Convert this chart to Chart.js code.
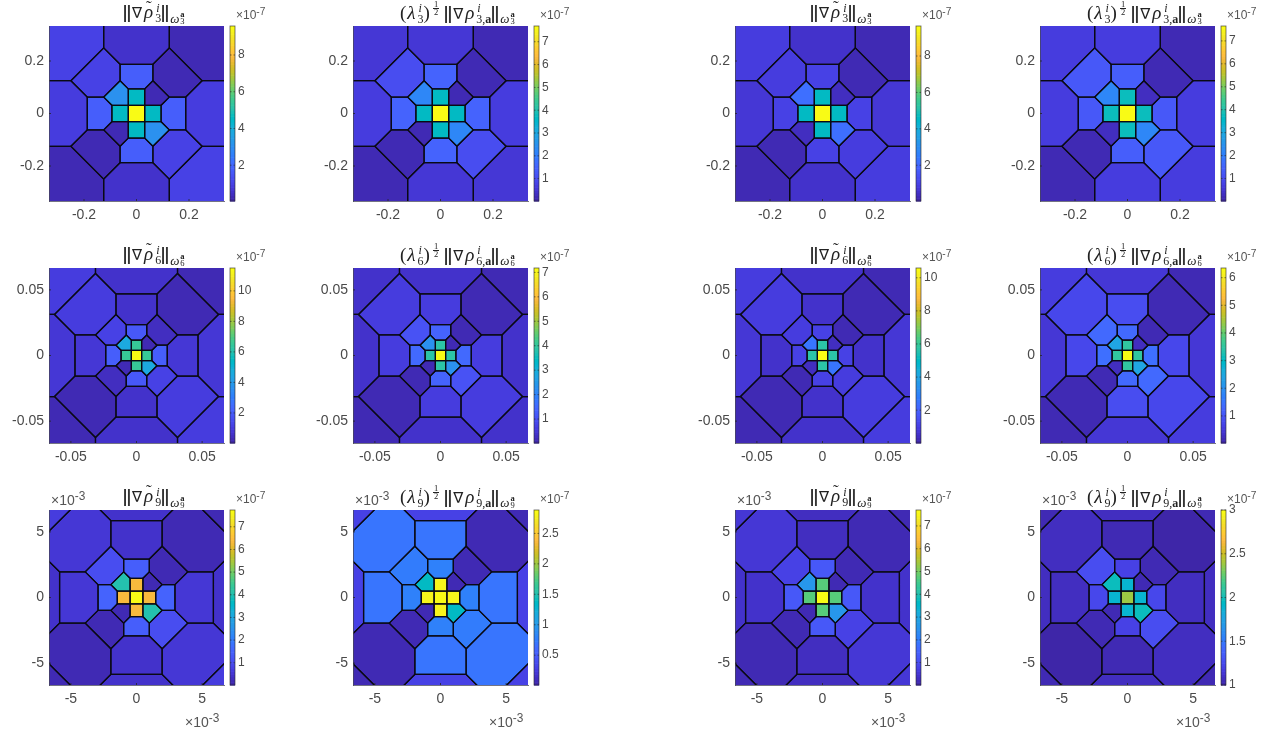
<!DOCTYPE html>
<html><head><meta charset="utf-8">
<script src="https://cdn.jsdelivr.net/npm/chart.js@4"></script>
<style>
html,body{margin:0;padding:0;background:#fff;overflow:hidden}
#stage{position:relative;width:1273px;height:733px}
canvas{position:absolute}
.t{position:absolute;white-space:nowrap;font-family:"Liberation Serif",serif;font-size:19px;line-height:22px;color:#222}
.t i{margin:0 1px}
.bb{display:inline-block;width:8px;text-align:center;transform:scale(1.5,1.05);font-family:"DejaVu Serif",serif;font-size:16px;font-weight:300;color:#333}
.nb{display:inline-block;font-family:"DejaVu Sans",sans-serif;font-size:15px;margin:0 1px}
.rt{display:inline-block;position:relative}
.til{position:absolute;left:3px;top:-5px;font-size:17px}
.st{display:inline-block;vertical-align:-4px;font-size:12px;line-height:10.5px;text-align:left;margin-left:1px}
.st>span{display:block}
.nm{font-size:13px;display:inline-block;vertical-align:-4px;line-height:11px;margin-left:1px}
.nm i{margin:0}
.st2{display:inline-block;vertical-align:-1.5px;font-size:8.5px;line-height:7px;margin-left:1px}
.st2>span{display:block}
.fr{display:inline-block;vertical-align:4px;font-size:8.5px;line-height:6.8px;text-align:center;margin:0 5px 0 3px}
.fr>span{display:block}
.fr>span:first-child{border-bottom:.7px solid #222;padding:0 1px}
.m{position:absolute;white-space:nowrap;font-family:"Liberation Sans",sans-serif;color:#555;line-height:1}
.m sup{font-size:.85em;vertical-align:.42em;line-height:0}
</style></head><body><div id="stage"></div>
<script>
// Parula colormap
const parula=[[.2422,.1504,.6603],[.2504,.165,.7076],[.2578,.1818,.7511],[.2647,.1978,.7952],[.2706,.2147,.8364],[.2751,.2342,.871],[.2783,.2559,.8991],[.2803,.2782,.9221],[.2813,.3006,.9414],[.281,.3228,.9579],[.2795,.3447,.9717],[.276,.3667,.9829],[.2699,.3892,.9906],[.2602,.4123,.9952],[.244,.4358,.9988],[.2206,.4603,.9973],[.1963,.4847,.9892],[.1834,.5074,.9798],[.1786,.5289,.9682],[.1764,.5499,.952],[.1687,.5703,.9359],[.154,.5902,.9218],[.146,.6091,.9079],[.138,.6276,.8973],[.1248,.6459,.8883],[.1113,.6635,.8763],[.0952,.6798,.8598],[.0689,.6948,.8394],[.0297,.7082,.8163],[.0036,.7203,.7917],[.0067,.7312,.766],[.0433,.7411,.7394],[.0964,.75,.712],[.1408,.7584,.6842],[.1717,.767,.6554],[.1938,.7758,.6251],[.2161,.7843,.5923],[.247,.7918,.5567],[.2906,.7973,.5188],[.3406,.8008,.4789],[.3909,.8029,.4354],[.4456,.8024,.3909],[.5044,.7993,.348],[.5616,.7942,.3045],[.6174,.7876,.2612],[.672,.7793,.2227],[.7242,.7698,.191],[.7738,.7598,.1646],[.8203,.7498,.1535],[.8634,.7406,.1596],[.9035,.733,.1774],[.9393,.7288,.21],[.9728,.7298,.2394],[.9956,.7434,.2371],[.997,.7659,.2199],[.9952,.7893,.2028],[.9892,.8136,.1885],[.9786,.8386,.1766],[.9676,.8639,.1643],[.961,.889,.1537],[.9597,.9135,.1423],[.9628,.9373,.1265],[.9691,.9606,.1064],[.9769,.9839,.0805]];

// Mesh vertices, in multiples of the finest cell half-width
const centerCell=[[-1,-1],[1,-1],[1,1],[-1,1]];
const meshCells=[
 [[-1,1],[1,1],[1,3],[-1,3]],
 [[-2,4],[-1,3],[-1,1],[-3,1],[-4,2]],
 [[-2,6],[2,6],[2,4],[1,3],[-1,3],[-2,4]],
 [[-2,4],[-2,6],[-4,8],[-8,4],[-6,2],[-4,2]],
 [[-4,8],[-4,12],[4,12],[4,8],[2,6],[-2,6]],
 [[-8,4],[-12,4],[-16,8],[-8,16],[-4,12],[-4,8]],
 [[-4,12],[4,12],[8,16],[8,20],[-8,20],[-8,16]],
 [[-16,8],[-8,16],[-8,20],[-20,20],[-20,8]]
];
// cell half-width and axis half-range per row
const rowCell=[1/32,1/256,1/2048];
const rowRange=[1/3,1/15,1/150];
const rowTicks=[[-0.2,0,0.2],[-0.05,0,0.05],[-0.005,0,0.005]];
const rowTickLabels=[['-0.2','0','0.2'],['-0.05','0','0.05'],['-5','0','5']];
const rowIndex=[3,6,9];

// Cell values (x 1e-7): centre, then pairs for each ring
const panel1=[9.58,4.59,4.59,3.1,.27,1.76,1.76,1.02,.27,.57,.87,1.02,.2];
const panel2=[7.69,3.66,3.66,2.24,.2,1.52,1.52,1.04,.2,.56,.68,.56,.18];
const panel3=[9.65,4.6,4.6,2.2,.41,1.01,1.01,.86,.26,.56,.71,.86,.2];
const panel4=[7.65,3.77,3.77,2.22,.32,1.39,1.27,1.27,.2,.67,.67,.67,.2];
const panel5=[11.5,6.5,6.5,4.6,.35,1.9,2.1,1.2,.48,.66,.75,1.0,.3,.66,.84,1.0,.25];
const panel6=[7.18,3.86,3.86,2.3,.19,1.42,1.53,1.08,.19,.64,.64,.64,.17,.41,.41,.41,.17];
const panel7=[10.59,5.8,5.8,2.5,.43,1.05,1.05,.9,.35,.6,.6,.9,.27,.6,.76,.9,.22];
const panel8=[6.35,3.5,3.5,2.45,.27,1.36,1.46,1.36,.17,.86,.76,.76,.16,.47,.47,.57,.14];
const panel9=[7.74,6.4,6.4,4.07,.2,1.45,1.53,1.0,.2,.44,.56,.62,.18,.44,.5,.66,.2];
const panel10=[2.885,2.8,2.8,1.38,.08,.8,.8,.75,.08,.7,.7,.72,.07,.3,.3,.3,.06];
const panel11=[7.7,4.7,4.7,2.6,.2,1.28,1.28,.8,.2,.35,.42,.55,.18,.38,.42,.55,.2];
const panel12=[2.39,1.9,1.9,1.98,1.05,1.2,1.22,1.27,1.05,1.06,1.07,1.07,1.03,1.07,1.07,1.06,1.04];
const panels=[panel1,panel2,panel3,panel4,panel5,panel6,panel7,panel8,panel9,panel10,panel11,panel12];

// Colour limits and colorbar ticks per panel
const climMin=[.05,.02,.035,.02,.03,.02,.02,.02,.02,.01,.02,1];
const climMax=[9.58,7.69,9.65,7.65,11.5,7.18,10.59,6.35,7.74,2.885,7.7,3];
const barTicks=[[2,4,6,8],[1,2,3,4,5,6,7],[2,4,6,8],[1,2,3,4,5,6,7],[2,4,6,8,10],[1,2,3,4,5,6,7],[2,4,6,8,10],[1,2,3,4,5,6],[1,2,3,4,5,6,7],[.5,1,1.5,2,2.5],[1,2,3,4,5,6,7],[1,1.5,2,2.5,3]];

const plotLeft=[49,353,735,1040], plotTop=[26,268,510];
const titleLeft=[74,47,75,47];
const PW=175,PH=175,CW=270,CH=242,M_L=49,M_T=26;

const colorOf=(v,lo,hi)=>{
 const i=Math.max(0,Math.min(63,Math.floor((v-lo)/(hi-lo)*64)));
 const c=parula[i];return `rgb(${c.map(x=>Math.round(x*255)).join(',')})`;
};
const rot=(p,q)=>{let o=p;for(let k=0;k<q;k++)o=o.map(([x,y])=>[y,-x]);return o;};

const barPlugin={id:'bar',afterDraw(chart,_a,opt){
 const ctx=chart.ctx,a=chart.chartArea,s=chart.scales.cb,x0=a.right+6,w=5;
 ctx.save();
 for(let i=0;i<64;i++){
  const lo=opt.lo+(opt.hi-opt.lo)*i/64,hi=opt.lo+(opt.hi-opt.lo)*(i+1)/64;
  const c=parula[i];ctx.fillStyle=`rgb(${c.map(x=>Math.round(x*255)).join(',')})`;
  const y1=s.getPixelForValue(hi),y0=s.getPixelForValue(lo);
  ctx.fillRect(x0,y1,w,y0-y1+.6);
 }
 ctx.strokeStyle='rgba(38,38,38,.75)';ctx.lineWidth=.8;
 ctx.strokeRect(x0,s.top,w,s.bottom-s.top);
 s.ticks.forEach(t=>{const y=s.getPixelForValue(t.value);
  ctx.beginPath();ctx.moveTo(x0,y);ctx.lineTo(x0+1.5,y);ctx.moveTo(x0+w,y);ctx.lineTo(x0+w-1.5,y);ctx.stroke();});
 ctx.strokeStyle='rgba(38,38,38,.8)';ctx.lineWidth=1;
 chart.scales.x.ticks.forEach(t=>{const p=chart.scales.x.getPixelForValue(t.value);
  ctx.beginPath();ctx.moveTo(p,a.bottom);ctx.lineTo(p,a.bottom-2);ctx.stroke();});
 chart.scales.y.ticks.forEach(t=>{const p=chart.scales.y.getPixelForValue(t.value);
  ctx.beginPath();ctx.moveTo(a.left,p);ctx.lineTo(a.left+2,p);ctx.stroke();});
 ctx.restore();
}};

const stage=document.getElementById('stage');
const sty=(a,b)=>`<span class="st"><span>${a}</span><span>${b}</span></span>`;
const nrm=n=>`<span class="nm"><i>ω</i><span class="st2"><span><b>a</b></span><span>${n}</span></span></span>`;
const half=`<span class="fr"><span>1</span><span>2</span></span>`;
const bars=`<span class="bb">‖</span>`;
const nab=`<span class="nb">∇</span>`;
const rhoT=`<span class="rt"><i>ρ</i><span class="til">˜</span></span>`;
const titleA=n=>`${bars}${nab}${rhoT}${sty('<i>i</i>',n)}${bars}${nrm(n)}`;
const titleB=n=>`(<i>λ</i>${sty('<i>i</i>',n)})${half}${bars}${nab}<i>ρ</i>${sty('<i>i</i>',n+',<b>a</b>')}${bars}${nrm(n)}`;
const addText=(cls,left,top,html,size)=>{const d=document.createElement('div');d.className=cls;d.style.left=left+'px';d.style.top=top+'px';if(size)d.style.fontSize=size+'px';d.innerHTML=html;stage.appendChild(d);};

panels.forEach((vals,idx)=>{
 const col=idx%4,row=Math.floor(idx/4);
 const lo=climMin[idx],hi=climMax[idx],R=rowRange[row],u=rowCell[row];
 const datasets=[];
 const add=(poly,v)=>{
  const pts=poly.concat([poly[0]]).map(([x,y])=>({x:x*u,y:y*u}));
  datasets.push({data:pts,showLine:true,fill:'shape',tension:0,pointRadius:0,clip:0,
   backgroundColor:colorOf(v,lo,hi),borderColor:'#0a0a14',borderWidth:1.25});
 };
 add(centerCell,vals[0]);
 let k=1;
 meshCells.forEach(cell=>{
  if(k>=vals.length)return;
  add(cell,vals[k]);add(rot(cell,2),vals[k]);
  add(rot(cell,1),vals[k+1]);add(rot(cell,3),vals[k+1]);
  k+=2;
 });
 const cv=document.createElement('canvas');
 cv.width=CW;cv.height=CH;cv.style.left=(plotLeft[col]-M_L)+'px';cv.style.top=(plotTop[row]-M_T)+'px';
 cv.style.width=CW+'px';cv.style.height=CH+'px';
 stage.appendChild(cv);
 const tickFont={family:'"Liberation Sans",sans-serif',size:14};
 const labelOf=v=>{const i=rowTicks[row].indexOf(v);return i<0?'':rowTickLabels[row][i];};
 new Chart(cv,{type:'scatter',data:{datasets},plugins:[barPlugin],options:{
  responsive:false,animation:false,devicePixelRatio:1,events:[],
  layout:{padding:{top:M_T,left:0,right:0,bottom:0}},
  plugins:{legend:{display:false},tooltip:{enabled:false},title:{display:false},
   filler:{drawTime:'beforeDatasetsDraw'},bar:{lo,hi}},
  scales:{
   x:{type:'linear',position:'bottom',min:-R,max:R,
    afterBuildTicks:s=>{s.ticks=rowTicks[row].map(value=>({value}));},
    afterFit:s=>{s.height=CH-M_T-PH;},
    grid:{display:false,drawTicks:false},border:{display:true,color:'rgba(70,70,90,.75)',width:1,z:1},
    ticks:{padding:6,color:'#4a4a4a',font:tickFont,maxRotation:0,autoSkip:false,callback:labelOf}},
   y:{type:'linear',position:'left',min:-R,max:R,
    afterBuildTicks:s=>{s.ticks=rowTicks[row].map(value=>({value}));},
    afterFit:s=>{s.width=M_L;},
    grid:{display:false,drawTicks:false},border:{display:true,color:'rgba(70,70,90,.75)',width:1,z:1},
    ticks:{padding:5,color:'#4a4a4a',font:tickFont,autoSkip:false,callback:labelOf}},
   cb:{type:'linear',position:'right',min:lo,max:hi,
    afterBuildTicks:s=>{s.ticks=barTicks[idx].map(value=>({value}));},
    afterFit:s=>{s.width=CW-M_L-PW;},
    grid:{display:false,drawTicks:false},border:{display:false},
    ticks:{padding:14,color:'#4a4a4a',font:{family:'"Liberation Sans",sans-serif',size:12},autoSkip:false,callback:v=>String(v)}}
  }}});
 const n=rowIndex[row];
 addText('t',plotLeft[col]+titleLeft[col],plotTop[row]-25,col%2?titleB(n):titleA(n));
 addText('m',plotLeft[col]+187,plotTop[row]-17,'×10<sup>-7</sup>',12);
 if(row===2){
  addText('m',plotLeft[col]+2,plotTop[row]-17,'×10<sup>-3</sup>',14);
  addText('m',plotLeft[col]+136,plotTop[row]+205,'×10<sup>-3</sup>',14);
 }
});
</script></body></html>
